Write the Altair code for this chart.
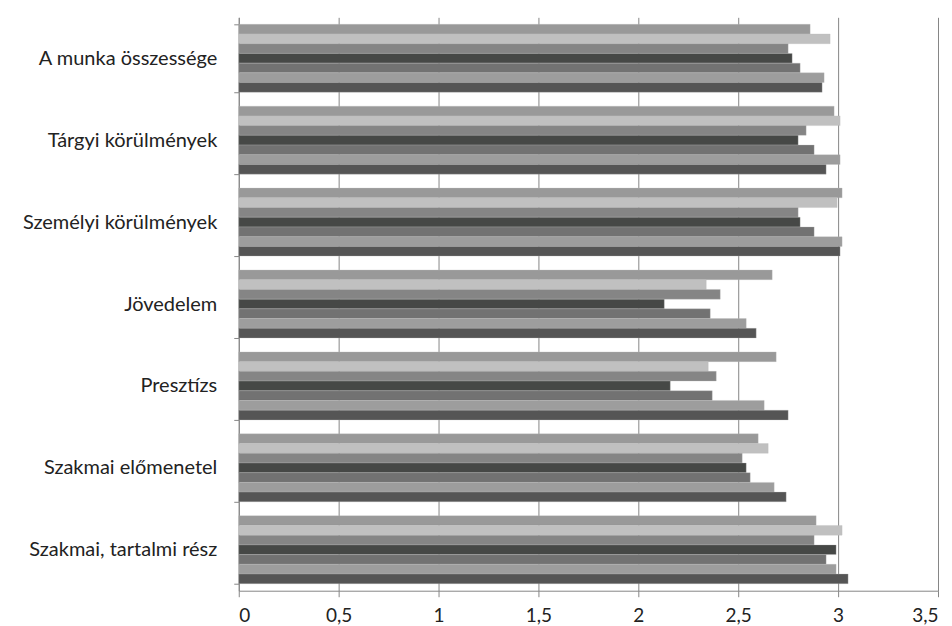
import altair as alt
import pandas as pd

categories = [
    "A munka összessége",
    "Tárgyi körülmények",
    "Személyi körülmények",
    "Jövedelem",
    "Presztízs",
    "Szakmai előmenetel",
    "Szakmai, tartalmi rész",
]
series = ["1", "2", "3", "4", "5", "6", "7"]
colors = ["#999999", "#c0c0c0", "#858585", "#464846", "#727272", "#9d9d9d", "#555555"]

s1 = [2.86, 2.98, 3.02, 2.67, 2.69, 2.60, 2.89]
s2 = [2.96, 3.01, 2.995, 2.34, 2.35, 2.65, 3.02]
s3 = [2.75, 2.84, 2.80, 2.41, 2.39, 2.52, 2.88]
s4 = [2.77, 2.80, 2.81, 2.13, 2.16, 2.54, 2.99]
s5 = [2.81, 2.88, 2.88, 2.36, 2.37, 2.56, 2.94]
s6 = [2.93, 3.01, 3.02, 2.54, 2.63, 2.68, 2.99]
s7 = [2.92, 2.94, 3.01, 2.59, 2.75, 2.74, 3.05]
all_series = [s1, s2, s3, s4, s5, s6, s7]

rows = []
for si, vals in zip(series, all_series):
    for c, v in zip(categories, vals):
        rows.append({"category": c, "series": si, "value": v})
df = pd.DataFrame(rows)

FONT = "Lato"

chart = (
    alt.Chart(df)
    .mark_bar(stroke="#bbbbbb", strokeWidth=0.5, strokeOpacity=0.6)
    .encode(
        y=alt.Y(
            "category:N",
            sort=categories,
            title=None,
            scale=alt.Scale(paddingInner=0.17, paddingOuter=0.085),
            axis=alt.Axis(
                tickBand="extent",
                tickSize=5,
                labelPadding=17,
                labelFont=FONT,
                labelFontSize=20,
                labelColor="#222222",
                domainColor="#868686",
                tickColor="#868686",
                minExtent=226,
                maxExtent=226,
                labelLimit=300,
            ),
        ),
        yOffset=alt.YOffset("series:N", sort=series),
        x=alt.X(
            "value:Q",
            title=None,
            scale=alt.Scale(domain=[0, 3.5], nice=False),
            axis=alt.Axis(
                values=[0, 0.5, 1, 1.5, 2, 2.5, 3, 3.5],
                labelExpr="replace(toString(datum.value), '.', ',')",
                grid=True,
                gridColor="#868686",
                gridWidth=1,
                tickSize=6,
                labelPadding=10,
                labelFont=FONT,
                labelFontSize=19,
                labelColor="#222222",
                domainColor="#868686",
                tickColor="#868686",
            ),
        ),
        color=alt.Color(
            "series:N",
            sort=series,
            scale=alt.Scale(domain=series, range=colors),
            legend=None,
        ),
    )
    .properties(
        width=700,
        height=574,
        padding={"top": -1, "left": 5, "right": 5, "bottom": 5},
    )
    .configure_view(stroke=None)
)

chart.save("out.html", embed_options={"renderer": "svg", "actions": False})
